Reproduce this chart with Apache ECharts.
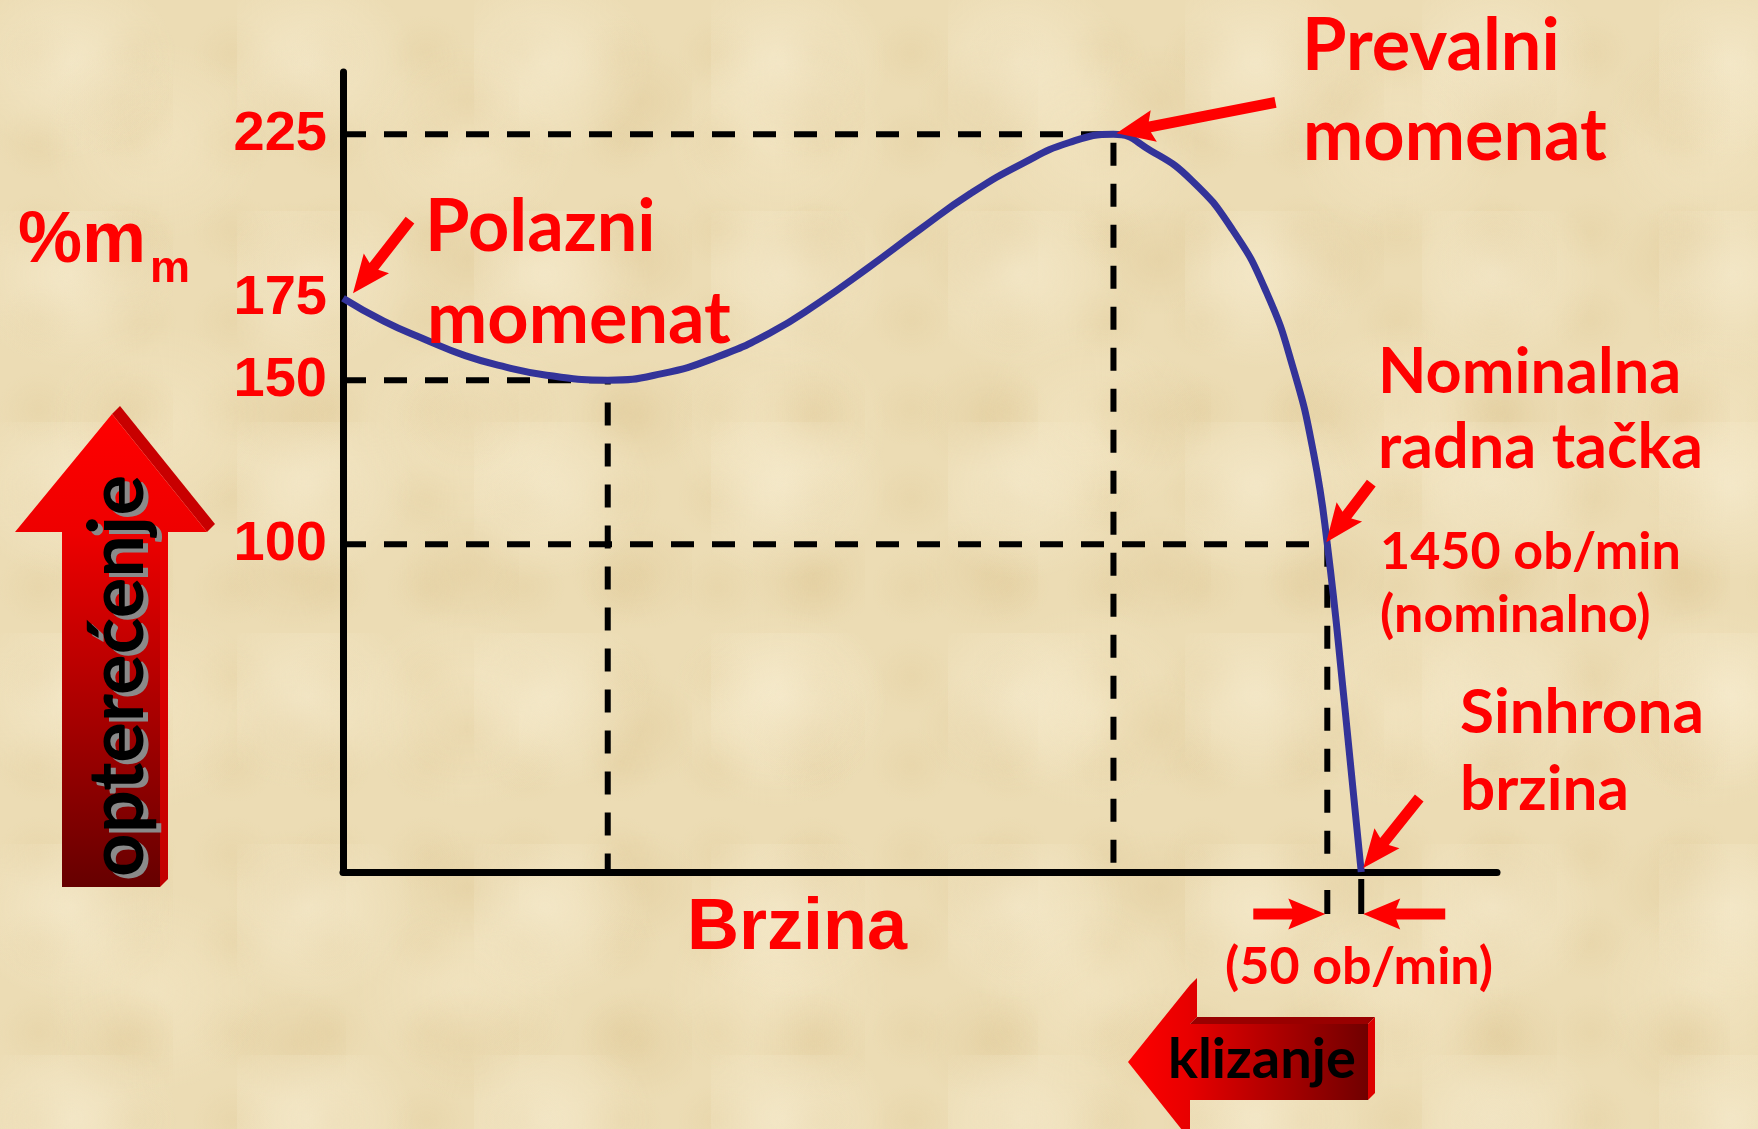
<!DOCTYPE html>
<html>
<head>
<meta charset="utf-8">
<script src="https://cdn.jsdelivr.net/npm/echarts@6/dist/echarts.min.js"></script>
<style>
html, body { margin: 0; padding: 0; }
body {
  width: 1758px; height: 1129px; overflow: hidden;
  background-color: #ecdcb4;
  background-image:
    radial-gradient(ellipse at 30% 30%, rgba(250,241,216,0.5) 0, rgba(250,241,216,0) 45%),
    radial-gradient(ellipse at 70% 65%, rgba(212,184,126,0.22) 0, rgba(212,184,126,0) 40%),
    radial-gradient(ellipse at 50% 50%, rgba(248,236,205,0.4) 0, rgba(248,236,205,0) 50%),
    radial-gradient(ellipse at 40% 60%, rgba(218,193,138,0.2) 0, rgba(218,193,138,0) 50%);
  background-size: 237px 211px, 173px 157px, 311px 283px, 97px 89px;
}
#main { width: 1758px; height: 1129px; }
</style>
</head>
<body>
<div id="main"></div>
<script>
// momentna karakteristika asinhronog motora
var speed  = [0, 60, 120, 180, 240, 300, 390, 470, 550, 630, 700, 775, 850, 925, 1000, 1070, 1135, 1190, 1250, 1310, 1360, 1400, 1430, 1450, 1475, 1500];
var torque = [175, 168, 162.5, 157.5, 154, 151.5, 150, 152, 157, 164.5, 173.5, 184.5, 196, 207, 216, 222.5, 225, 220, 211, 196, 177, 153.5, 127.5, 100, 52, 0];
var yTicks = [100, 150, 175, 225];

var startPoint = [0, 175];
var minPoint = [390, 150];
var peakPoint = [1135, 225];
var nominalPoint = [1450, 100];
var syncPoint = [1500, 0];

var RED = '#ff0000';
var comic = "'Comic Sans MS', Lato, sans-serif";
var arial = "Arial, 'Liberation Sans', sans-serif";

var chart = echarts.init(document.getElementById('main'));

var curve = speed.map(function (s, i) { return [s, torque[i]]; });

function guide(p) {
  return {
    type: 'line', data: [[0, p[1]], p, [p[0], 0]], showSymbol: false, silent: true, z: 1,
    lineStyle: { color: '#000', width: 6, type: [23, 18] }
  };
}

chart.setOption({
  animation: false,
  grid: { left: 343, right: 261, top: 72, bottom: 257 },
  xAxis: {
    type: 'value', min: 0, max: 1700,
    axisLine: { show: true, lineStyle: { color: '#000', width: 7 } },
    axisTick: { show: false }, axisLabel: { show: false }, splitLine: { show: false }
  },
  yAxis: {
    type: 'value', min: 0, max: 244,
    axisLine: { show: true, lineStyle: { color: '#000', width: 7 } },
    axisTick: { show: false }, splitLine: { show: false },
    axisLabel: {
      customValues: yTicks, color: RED, fontSize: 56, fontWeight: 'bold',
      fontFamily: arial, margin: 16
    }
  },
  series: [
    guide(minPoint),
    guide(peakPoint),
    guide(nominalPoint),
    {
      type: 'line', data: curve, smooth: 0.5, showSymbol: false, z: 3,
      lineStyle: { color: '#333399', width: 7 }
    }
  ]
});

function px(p) { return chart.convertToPixel({ gridIndex: 0 }, p); }

// crvena strelica od (x1,y1) do vrha (x2,y2)
function arrow(x1, y1, x2, y2, sw, hl, hw) {
  sw = sw || 11; hl = hl || 34; hw = hw || 32;
  var dx = x2 - x1, dy = y2 - y1, len = Math.sqrt(dx * dx + dy * dy);
  var ux = dx / len, uy = dy / len, nx = -uy, ny = ux;
  var bx = x2 - ux * hl, by = y2 - uy * hl;
  var pts = [
    [x1 + nx * sw / 2, y1 + ny * sw / 2],
    [bx + nx * sw / 2, by + ny * sw / 2],
    [bx + nx * hw / 2 - ux * 4, by + ny * hw / 2 - uy * 4],
    [x2, y2],
    [bx - nx * hw / 2 - ux * 4, by - ny * hw / 2 - uy * 4],
    [bx - nx * sw / 2, by - ny * sw / 2],
    [x1 - nx * sw / 2, y1 - ny * sw / 2]
  ];
  return { type: 'polygon', shape: { points: pts }, style: { fill: RED }, z: 20 };
}

function txt(s, x, base, size, opt) {
  opt = opt || {};
  return {
    type: 'text', x: x, y: base - 0.35 * size, z: opt.z || 30, rotation: opt.rotation || 0,
    style: {
      text: s, fill: opt.color || RED, font: 'bold ' + size + 'px ' + (opt.family || comic),
      align: opt.align || 'left', verticalAlign: 'middle'
    }
  };
}

var pS = px(startPoint), pP = px(peakPoint), pN = px(nominalPoint), pY = px(syncPoint);
var axisY = px([0, 0])[1];

var g = [];

// velika strelica "opterećenje"
g.push({ type: 'polygon', z: 10, shape: { points: [[112, 414], [120, 406], [215, 524], [207, 532]] }, style: { fill: '#c80000' } });
g.push({ type: 'polygon', z: 10, shape: { points: [[160, 532], [168, 524], [168, 879], [160, 887]] },
  style: { fill: new echarts.graphic.LinearGradient(0, 0, 0, 1, [{ offset: 0, color: '#ee0000' }, { offset: 1, color: '#c00000' }]) } });
g.push({ type: 'polygon', z: 11, shape: { points: [[112, 414], [207, 532], [160, 532], [160, 887], [62, 887], [62, 532], [15, 532]] },
  style: { fill: new echarts.graphic.LinearGradient(0, 0, 0, 1, [
    { offset: 0, color: '#ff0000' }, { offset: 0.25, color: '#ee0000' }, { offset: 1, color: '#660000' }]) } });
// siva sjenka pa crni tekst
g.push(txt('opterećenje', 123, 680 + 0.35 * 76, 76, { color: '#8a8a8a', align: 'center', rotation: Math.PI / 2, z: 29 }));
g.push(txt('opterećenje', 118, 676 + 0.35 * 76, 76, { color: '#000', align: 'center', rotation: Math.PI / 2 }));

// strelica "klizanje"
g.push({ type: 'polygon', z: 10, shape: { points: [[1190, 985], [1197, 978], [1197, 1017], [1190, 1024]] }, style: { fill: '#e00000' } });
g.push({ type: 'polygon', z: 10, shape: { points: [[1190, 1024], [1197, 1017], [1375, 1017], [1368, 1024]] }, style: { fill: '#990000' } });
g.push({ type: 'polygon', z: 10, shape: { points: [[1368, 1024], [1375, 1017], [1375, 1093], [1368, 1100]] }, style: { fill: '#dd0000' } });
g.push({ type: 'polygon', z: 11, shape: { points: [[1128, 1062], [1190, 985], [1190, 1024], [1368, 1024], [1368, 1100], [1190, 1100], [1190, 1140]] },
  style: { fill: new echarts.graphic.LinearGradient(0, 0, 1, 0, [
    { offset: 0, color: '#ff0000' }, { offset: 0.25, color: '#e80000' }, { offset: 1, color: '#700000' }]) } });
g.push(txt('klizanje', 1168, 1080, 56, { color: '#000' }));

// strelice prema karakterističnim tačkama
var tS = [pS[0] + 10, pS[1] - 5];
g.push(arrow(tS[0] + 57, tS[1] - 73, tS[0], tS[1]));
var tP = [pP[0] + 3, pP[1] - 1];
g.push(arrow(tP[0] + 159, tP[1] - 31, tP[0], tP[1]));
var tN = [pN[0] - 1, pN[1] - 2];
g.push(arrow(tN[0] + 45, tN[1] - 59, tN[0], tN[1]));
var tY = [pY[0] + 2, pY[1] - 4];
g.push(arrow(tY[0] + 56, tY[1] - 70, tY[0], tY[1]));

// klizanje 50 ob/min ispod ose
g.push({ type: 'line', z: 5, shape: { x1: pN[0], y1: axisY + 18, x2: pN[0], y2: axisY + 42 }, style: { stroke: '#000', lineWidth: 6 } });
g.push({ type: 'line', z: 5, shape: { x1: pY[0], y1: axisY + 7, x2: pY[0], y2: axisY + 42 }, style: { stroke: '#000', lineWidth: 6 } });
g.push(arrow(pN[0] - 74, axisY + 42, pN[0] - 2, axisY + 42, 11, 33, 31));
g.push(arrow(pY[0] + 84, axisY + 42, pY[0] + 2, axisY + 42, 11, 33, 31));
g.push(txt('(50 ob/min)', 1359, 985, 52, { align: 'center' }));

// natpisi
g.push(txt('%m', 18, 267, 72, { family: arial }));
g.push(txt('m', 150, 285, 45, { family: arial }));
g.push(txt('Brzina', 687, 954, 72, { family: arial }));
g.push(txt('Polazni', 425, 253, 72));
g.push(txt('momenat', 427, 345, 72));
g.push(txt('Prevalni', 1302, 72, 72));
g.push(txt('momenat', 1303, 162, 72));
g.push(txt('Nominalna', 1378, 395, 63));
g.push(txt('radna tačka', 1378, 470, 63));
g.push(txt('1450 ob/min', 1380, 570, 52));
g.push(txt('(nominalno)', 1380, 633, 52));
g.push(txt('Sinhrona', 1460, 735, 62));
g.push(txt('brzina', 1460, 812, 62));

chart.setOption({ graphic: g });
</script>
</body>
</html>
